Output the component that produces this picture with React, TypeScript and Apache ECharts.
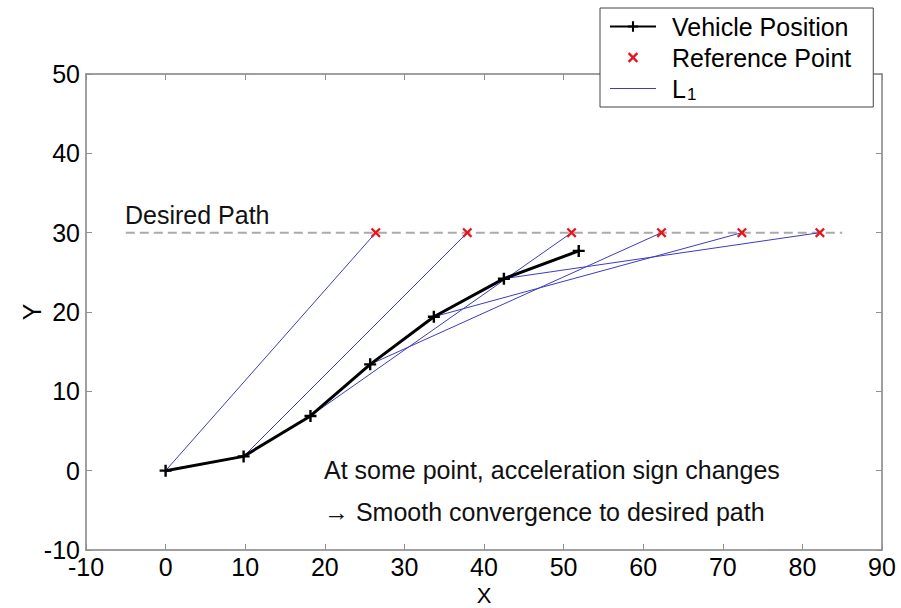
import React, { useEffect, useRef } from "react";
import * as echarts from "echarts";

// Vehicle positions (X, Y)
const vehicleX = [0, 9.8, 18.2, 25.7, 33.7, 42.5, 51.9];
const vehicleY = [0, 1.8, 6.9, 13.4, 19.4, 24.2, 27.7];
// Reference points on the desired path
const refX = [26.4, 37.9, 51.0, 62.3, 72.4, 82.2];
const refY = [30, 30, 30, 30, 30, 30];
// Desired path (Y = 30)
const pathX = [-5, 85];
const pathY = [30, 30];
// Axis ticks
const xTicks = { min: -10, max: 90, interval: 10 };
const yTicks = { min: -10, max: 50, interval: 10 };

const FONT = '"Liberation Sans", Arial, Helvetica, sans-serif';
const FS = 25;
const L1_COLOR = "#3c3cc0";

const PLUS = "path://M4,0H6V4H10V6H6V10H4V6H0V4H4Z";
const CROSS =
  "path://M0,1.6L1.6,0L5,3.4L8.4,0L10,1.6L6.6,5L10,8.4L8.4,10L5,6.6L1.6,10L0,8.4L3.4,5Z";

export default function App() {
  const ref = useRef<HTMLDivElement>(null);
  useEffect(() => {
    document.body.style.margin = "0";
    const chart = echarts.init(ref.current!, null, { renderer: "svg" });
    // L1 segments: vehicle position i -> reference point i, separated by gaps
    const l1Data: any[] = [];
    refX.forEach((rx, i) => {
      if (i > 0) l1Data.push("-");
      l1Data.push([vehicleX[i], vehicleY[i]]);
      l1Data.push([rx, refY[i]]);
    });
    const axisCommon = {
      type: "value",
      axisLine: { show: true, onZero: false, lineStyle: { color: "#808080", width: 1.5 } },
      axisTick: { show: true, inside: true, length: 6, lineStyle: { color: "#909090" } },
      splitLine: { show: false },
    };
    chart.setOption({
      animation: false,
      backgroundColor: "#fff",
      textStyle: { fontFamily: FONT },
      grid: {
        left: 86,
        right: 19,
        top: 74,
        bottom: 58,
        show: false,
        containLabel: false,
        outerBoundsMode: "none",
      },
      xAxis: [
        {
          ...axisCommon,
          ...xTicks,
          position: "bottom",
          name: "X",
          nameLocation: "middle",
          nameGap: 35,
          nameMoveOverlap: false,
          nameTextStyle: { fontSize: 22, lineHeight: 20, color: "#000", fontFamily: FONT },
          axisLabel: { fontSize: FS, lineHeight: 20, color: "#000", margin: 7, fontFamily: FONT },
        },
        {
          ...axisCommon,
          ...xTicks,
          position: "top",
          axisLabel: { show: false },
        },
      ],
      yAxis: [
        {
          ...axisCommon,
          ...yTicks,
          position: "left",
          name: "Y",
          nameLocation: "middle",
          nameRotate: 90,
          nameGap: 44,
          nameMoveOverlap: false,
          nameTextStyle: { fontSize: FS, lineHeight: 20, color: "#000", fontFamily: FONT },
          axisLabel: { fontSize: FS, lineHeight: 20, color: "#000", margin: 6, fontFamily: FONT },
        },
        {
          ...axisCommon,
          ...yTicks,
          position: "right",
          axisLabel: { show: false },
        },
      ],
      legend: {
        orient: "vertical",
        left: 600,
        top: 8,
        padding: [4, 22, 4, 9],
        itemGap: 2,
        itemWidth: 46,
        itemHeight: 13,
        backgroundColor: "#fff",
        borderColor: "#444",
        borderWidth: 1,
        borderRadius: 0,
        z: 10,
        data: [
          "Vehicle Position",
          "Reference Point",
          { name: "L1", icon: "path://M0,0H46V1.2H0Z" },
        ],
        formatter: (name: string) => (name === "L1" ? "{l|L}{s|1}" : name),
        textStyle: {
          fontSize: FS,
          color: "#000",
          lineHeight: 29,
          fontFamily: FONT,
          padding: [0, 0, 0, 11],
          rich: {
            l: { fontSize: FS, lineHeight: 29, fontFamily: FONT, color: "#000" },
            s: {
              fontSize: 17,
              lineHeight: 12,
              verticalAlign: "bottom",
              fontFamily: FONT,
              color: "#000",
              padding: [0, 0, 0, 1],
            },
          },
        },
      },
      series: [
        {
          name: "Desired Path",
          type: "line",
          data: pathX.map((x, i) => [x, pathY[i]]),
          symbol: "none",
          lineStyle: { color: "#aaaaaa", width: 2, type: [9, 5] },
          z: 1,
        },
        {
          name: "L1",
          type: "line",
          data: l1Data,
          connectNulls: false,
          symbol: "none",
          lineStyle: { color: L1_COLOR, width: 1 },
          itemStyle: { color: L1_COLOR },
          z: 3,
        },
        {
          name: "Vehicle Position",
          type: "line",
          data: vehicleX.map((x, i) => [x, vehicleY[i]]),
          symbol: PLUS,
          symbolSize: 12,
          lineStyle: { color: "#000", width: 3 },
          itemStyle: { color: "#000" },
          z: 5,
        },
        {
          name: "Reference Point",
          type: "line",
          data: refX.map((x, i) => [x, refY[i]]),
          symbol: CROSS,
          symbolSize: 10,
          lineStyle: { width: 0, opacity: 0 },
          itemStyle: { color: "#e8141c" },
          z: 6,
        },
      ],
      graphic: [
        {
          type: "text",
          left: 125,
          top: 202,
          style: { text: "Desired Path", fill: "#111", font: `${FS}px ${FONT}` },
        },
        {
          type: "text",
          left: 324,
          top: 457,
          style: {
            text: "At some point, acceleration sign changes",
            fill: "#111",
            font: `${FS}px ${FONT}`,
          },
        },
        {
          type: "text",
          left: 324,
          top: 499,
          style: {
            text: "\u2192 Smooth convergence to desired path",
            fill: "#111",
            font: `${FS}px ${FONT}`,
          },
        },
      ],
    });
    return () => chart.dispose();
  }, []);
  return (
    <div
      ref={ref}
      style={{ position: "fixed", left: 0, top: 0, width: 901, height: 608 }}
    />
  );
}
